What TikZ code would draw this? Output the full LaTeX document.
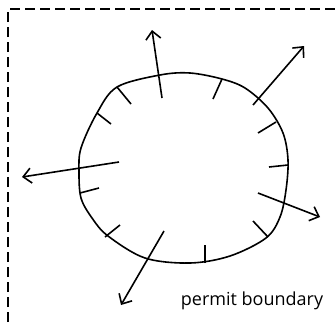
\documentclass[tikz,border=0pt]{standalone}
\usepackage{fontspec}
\setmainfont{Open Sans}
\usetikzlibrary{arrows.meta}
\begin{document}
\begin{tikzpicture}[x=1pt,y=-1pt,
  outline/.style={line width=1.6pt,line join=round},
  tick/.style={line width=1.6pt},
  outarrow/.style={line width=1.6pt,-{Straight Barb[length=8pt,width=15pt,line width=1.6pt]}},
  border/.style={line width=1.1pt,dash pattern=on 10pt off 5pt}]
\useasboundingbox (0,0) rectangle (336,322);
\draw[border] (8,322) -- (8,9) -- (336,9);
\draw[outline] plot[smooth cycle,tension=0.55] coordinates {
  (190,73) (160,75) (117,87) (97,113) (81,148) (79,172) (81,198) (92,218) (108,236)
  (145,258) (190,263) (230,256) (266,238) (280,217) (286,190) (288,160)
  (283,133) (268,108) (245,88) (222,79)};
% ticks
\draw[tick] (117,87) -- (131,104);
\draw[tick] (97,113) -- (111,124);
\draw[tick] (222,79) -- (213,99);
\draw[tick] (276,122) -- (258,133);
\draw[tick] (288,165) -- (269,167);
\draw[tick] (268,237) -- (253,221);
\draw[tick] (205,263) -- (205,245);
\draw[tick] (105,237) -- (120,225);
\draw[tick] (80,193) -- (99,188);
% arrows
\coordinate (a1s) at (162,98);  \coordinate (a1e) at (152,30);
\coordinate (a2s) at (253,105); \coordinate (a2e) at (304,46);
\coordinate (a3s) at (119,162); \coordinate (a3e) at (22,177);
\coordinate (a4s) at (258,193); \coordinate (a4e) at (320,217);
\coordinate (a5s) at (164,231); \coordinate (a5e) at (121,305);
\draw[outarrow] (a1s) -- (a1e);
\draw[outarrow] (a2s) -- (a2e);
\draw[outarrow] (a3s) -- (a3e);
\draw[outarrow] (a4s) -- (a4e);
\draw[outarrow] (a5s) -- (a5e);
\node[anchor=center,font=\fontsize{18}{20}\selectfont,inner sep=0pt] (lbl) at (252,301) {permit boundary};
\end{tikzpicture}
\end{document}
